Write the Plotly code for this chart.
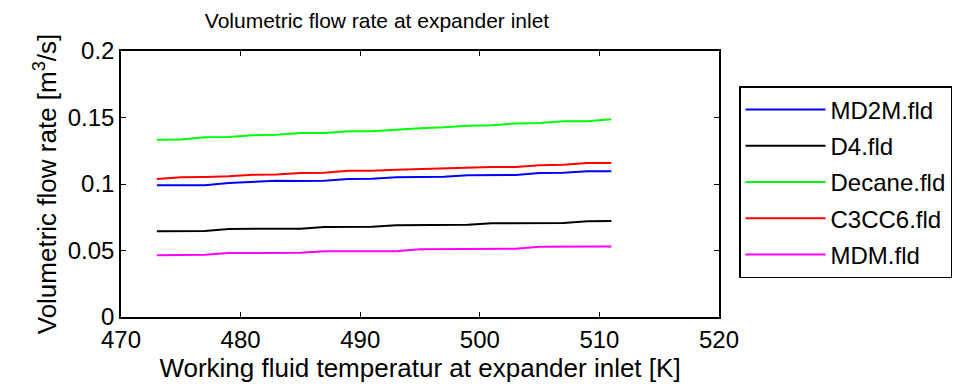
import plotly.graph_objects as go

temperature_K = [473, 475, 477, 479, 481, 483, 485, 487, 489, 491,
                 493, 495, 497, 499, 501, 503, 505, 507, 509, 511]

md2m = [0.0990, 0.0991, 0.0991, 0.1008, 0.1015, 0.1024, 0.1022, 0.1025, 0.1038, 0.1039,
        0.1050, 0.1053, 0.1054, 0.1066, 0.1067, 0.1067, 0.1083, 0.1084, 0.1095, 0.1096]
d4 = [0.0645, 0.0645, 0.0646, 0.0662, 0.0662, 0.0664, 0.0664, 0.0677, 0.0679, 0.0679,
      0.0689, 0.0690, 0.0690, 0.0694, 0.0705, 0.0705, 0.0706, 0.0706, 0.0720, 0.0721]
decane = [0.1333, 0.1335, 0.1351, 0.1353, 0.1366, 0.1371, 0.1383, 0.1384, 0.1396, 0.1397,
          0.1408, 0.1420, 0.1426, 0.1438, 0.1441, 0.1455, 0.1459, 0.1471, 0.1472, 0.1486]
c3cc6 = [0.1038, 0.1050, 0.1053, 0.1058, 0.1070, 0.1071, 0.1082, 0.1084, 0.1099, 0.1100,
         0.1108, 0.1114, 0.1116, 0.1126, 0.1127, 0.1128, 0.1141, 0.1145, 0.1157, 0.1158]
mdm = [0.0464, 0.0465, 0.0468, 0.0481, 0.0481, 0.0482, 0.0483, 0.0494, 0.0494, 0.0495,
       0.0495, 0.0509, 0.0511, 0.0513, 0.0514, 0.0514, 0.0529, 0.0529, 0.0529, 0.0530]

series_names = ["MD2M.fld", "D4.fld", "Decane.fld", "C3CC6.fld", "MDM.fld"]
series_values = [md2m, d4, decane, c3cc6, mdm]
series_colors = ["#0000ff", "#000000", "#00ff00", "#ff0000", "#ff00ff"]

x_ticks = [470, 480, 490, 500, 510, 520]
y_ticks = [0, 0.05, 0.1, 0.15, 0.2]
y_tick_labels = ["0", "0.05", "0.1", "0.15", "0.2"]

FONT = "Liberation Sans"

fig = go.Figure()
for i, (name, vals, col) in enumerate(zip(series_names, series_values, series_colors)):
    fig.add_trace(go.Scatter(
        x=temperature_K, y=vals, mode="lines", name=name,
        line=dict(color=col, width=2), legendgroup=f"g{i}",
    ))

fig.update_layout(
    width=970, height=387,
    margin=dict(l=113, r=259, t=43, b=78),
    paper_bgcolor="white", plot_bgcolor="white",
    font=dict(family=FONT, size=24, color="black"),
    title=dict(text="Volumetric flow rate at expander inlet", x=369 / 970,
               xanchor="center", y=1 - 13 / 387, yanchor="middle",
               font=dict(family=FONT, size=21, color="black")),
    legend=dict(x=(731 - 113) / 598, xanchor="left", y=1 - (78 - 43) / 266, yanchor="top",
                bordercolor="black", borderwidth=1.5, bgcolor="white",
                font=dict(family=FONT, size=24, color="black"),
                itemwidth=80, tracegroupgap=2),
    showlegend=True,
)

fig.update_xaxes(
    range=[470, 520], tickvals=x_ticks, ticktext=[str(v) for v in x_ticks],
    showgrid=False, zeroline=False, showline=True, linecolor="black", linewidth=1.5,
    mirror="ticks", ticks="inside", ticklen=5, tickwidth=1, tickcolor="black",
    tickfont=dict(family=FONT, size=24, color="black"),
    title=dict(text="Working fluid temperatur at expander inlet [K]",
               font=dict(family=FONT, size=26, color="black"), standoff=0),
)
fig.update_yaxes(
    range=[0, 0.2], tickvals=y_ticks, ticktext=y_tick_labels,
    showgrid=False, zeroline=False, showline=True, linecolor="black", linewidth=1.5,
    mirror="ticks", ticks="inside", ticklen=5, tickwidth=1, tickcolor="black",
    tickfont=dict(family=FONT, size=24, color="black"),
    title=dict(text="Volumetric flow rate [m<sup>3</sup>/s]",
               font=dict(family=FONT, size=26, color="black"), standoff=4),
)

fig.write_html("out.html")
